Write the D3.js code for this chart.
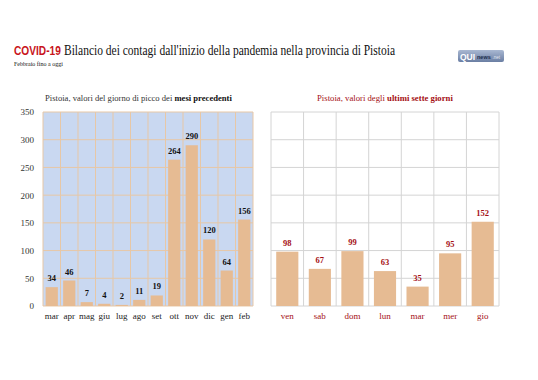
<!DOCTYPE html>
<html><head><meta charset="utf-8">
<script src="https://cdn.jsdelivr.net/npm/d3@7"></script>
<style>
html,body{margin:0;padding:0;background:#fff;}
svg{display:block;}
text{font-family:"Liberation Serif","DejaVu Serif",serif;}
text.sans, tspan.sans{font-family:"Liberation Sans",Arial,sans-serif;}
</style></head>
<body>
<svg id="chart" width="538" height="380"></svg>
<script>
const monthCats = ["mar","apr","mag","giu","lug","ago","set","ott","nov","dic","gen","feb"];
const monthVals = [34,46,7,4,2,11,19,264,290,120,64,156];
const dayCats = ["ven","sab","dom","lun","mar","mer","gio"];
const dayVals = [98,67,99,63,35,95,152];
const yTicks = [0,50,100,150,200,250,300,350];

const svg = d3.select("#chart");
const barFill = "#e6bb93";
const darkRed = "#a50f14";

// fit a text horizontally into a given width by scaling
function fitText(sel, x, yb, w) {
  const n = sel.node().getComputedTextLength();
  sel.attr("x", 0).attr("y", 0).attr("transform", `translate(${x},${yb}) scale(${w / n},1)`);
}

// Title
fitText(svg.append("text").attr("class","sans").attr("font-size",13.5)
 .attr("font-weight","bold").attr("fill","#c8141b").text("COVID-19"), 14, 55, 47);
fitText(svg.append("text").attr("font-size",15).attr("fill","#111")
 .text("Bilancio dei contagi dall'inizio della pandemia nella provincia di Pistoia"), 64, 55, 331);
fitText(svg.append("text").attr("font-size",7).attr("fill","#111").text("Febbraio fino a oggi"), 14, 66, 49);

// Logo
const defs = svg.append("defs");
const grad = defs.append("linearGradient").attr("id","lg").attr("x1",0).attr("y1",0).attr("x2",0).attr("y2",1);
grad.append("stop").attr("offset","0%").attr("stop-color","#a9b8d2");
grad.append("stop").attr("offset","100%").attr("stop-color","#6a7ea3");
const logo = svg.append("g").attr("transform","translate(458,50)");
logo.append("rect").attr("width",46).attr("height",12).attr("rx",2).attr("fill","url(#lg)");
logo.append("text").attr("class","sans").attr("x",2).attr("y",9.5).attr("font-weight","bold")
 .attr("font-size",8.5).attr("fill","#fff").text("QUI");
logo.append("text").attr("class","sans").attr("x",19).attr("y",9).attr("font-weight","bold")
 .attr("font-size",5.5).attr("fill","#1b2a4a").text("news");
logo.append("text").attr("class","sans").attr("x",34.5).attr("y",9)
 .attr("font-size",4.5).attr("fill","#e3e8f2").text(".net");

// Shared y scale
const y = d3.scaleLinear().domain([0,350]).range([306,112]);

// ---- Left panel ----
const xL = d3.scaleBand().domain(monthCats).range([43,253]).paddingInner(0.3).paddingOuter(0.15);
const L = svg.append("g");
L.append("rect").attr("x",43).attr("y",y(350)).attr("width",210).attr("height",y(0)-y(350)).attr("fill","#c9d8f1");
const stepL = 210/monthCats.length;
const gridCol = "#e7c7a6";
L.selectAll(".hg").data(yTicks).join("line")
 .attr("x1",43).attr("x2",253).attr("y1",d=>y(d)).attr("y2",d=>y(d)).attr("stroke",gridCol).attr("stroke-width",1);
L.selectAll(".vg").data(d3.range(monthCats.length+1)).join("line")
 .attr("x1",i=>43+i*stepL).attr("x2",i=>43+i*stepL).attr("y1",y(350)).attr("y2",y(0)).attr("stroke",gridCol).attr("stroke-width",1);
L.selectAll(".bar").data(monthVals).join("rect")
 .attr("x",(d,i)=>xL(monthCats[i])).attr("width",xL.bandwidth())
 .attr("y",d=>y(d)).attr("height",d=>y(0)-y(d)).attr("fill",barFill);
L.selectAll(".bl").data(monthVals).join("text")
 .attr("x",(d,i)=>xL(monthCats[i])+xL.bandwidth()/2).attr("y",d=>y(d)-6)
 .attr("text-anchor","middle").attr("font-size",8.5).attr("font-weight","bold").attr("fill","#111").text(d=>d);
const axL = d3.axisLeft(y).tickValues(yTicks).tickSize(0).tickPadding(9);
const gAxL = svg.append("g").attr("transform","translate(43,0)").call(axL);
gAxL.select(".domain").remove();
gAxL.selectAll("text").attr("font-size",9).attr("fill","#333");
const axBL = d3.axisBottom(xL).tickSize(0).tickPadding(7);
const gBL = svg.append("g").attr("transform","translate(0,306)").call(axBL);
gBL.select(".domain").remove();
gBL.selectAll("text").attr("font-size",9).attr("fill","#222");

const tl = svg.append("text").attr("font-size",8.5).attr("fill","#333");
tl.append("tspan").text("Pistoia, valori del giorno di picco dei ");
tl.append("tspan").attr("font-weight","bold").attr("fill","#111").text("mesi precedenti");
fitText(tl, 45, 101, 187);

// ---- Right panel ----
const xR = d3.scaleBand().domain(dayCats).range([271,499]).paddingInner(0.32).paddingOuter(0.16);
const R = svg.append("g");
const stepR = 228/dayCats.length;
const gridR = "#d4d4d4";
R.selectAll(".hg").data(yTicks).join("line")
 .attr("x1",271).attr("x2",499).attr("y1",d=>y(d)).attr("y2",d=>y(d)).attr("stroke",gridR);
R.selectAll(".vg").data(d3.range(dayCats.length+1)).join("line")
 .attr("x1",i=>271+i*stepR).attr("x2",i=>271+i*stepR).attr("y1",y(350)).attr("y2",y(0)).attr("stroke",gridR);
R.selectAll(".bar").data(dayVals).join("rect")
 .attr("x",(d,i)=>xR(dayCats[i])).attr("width",xR.bandwidth())
 .attr("y",d=>y(d)).attr("height",d=>y(0)-y(d)).attr("fill",barFill);
R.selectAll(".bl").data(dayVals).join("text")
 .attr("x",(d,i)=>xR(dayCats[i])+xR.bandwidth()/2).attr("y",d=>y(d)-6)
 .attr("text-anchor","middle").attr("font-size",8.5).attr("font-weight","bold").attr("fill",darkRed).text(d=>d);
const axBR = d3.axisBottom(xR).tickSize(0).tickPadding(7);
const gBR = svg.append("g").attr("transform","translate(0,306)").call(axBR);
gBR.select(".domain").remove();
gBR.selectAll("text").attr("font-size",9).attr("fill",darkRed);

const tr = svg.append("text").attr("font-size",8.5).attr("fill",darkRed);
tr.append("tspan").text("Pistoia, valori degli ");
tr.append("tspan").attr("font-weight","bold").text("ultimi sette giorni");
fitText(tr, 317, 101, 136);
</script>
</body></html>
